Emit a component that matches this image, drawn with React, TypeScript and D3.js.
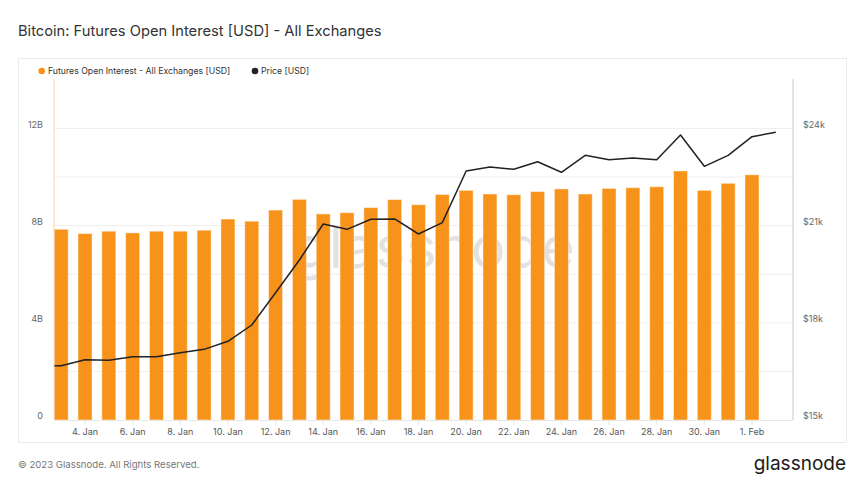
import React from "react";
import * as d3 from "d3";

const dates: string[] = [
  "2023-01-03","2023-01-04","2023-01-05","2023-01-06","2023-01-07","2023-01-08","2023-01-09",
  "2023-01-10","2023-01-11","2023-01-12","2023-01-13","2023-01-14","2023-01-15","2023-01-16",
  "2023-01-17","2023-01-18","2023-01-19","2023-01-20","2023-01-21","2023-01-22","2023-01-23",
  "2023-01-24","2023-01-25","2023-01-26","2023-01-27","2023-01-28","2023-01-29","2023-01-30",
  "2023-01-31","2023-02-01",
];
// Futures open interest, billions USD
const openInterest: number[] = [
  7.85, 7.67, 7.77, 7.70, 7.77, 7.77, 7.81, 8.27, 8.18, 8.64, 9.08, 8.48, 8.53, 8.74, 9.07,
  8.86, 9.28, 9.45, 9.30, 9.27, 9.40, 9.51, 9.30, 9.53, 9.56, 9.60, 10.25, 9.45, 9.74, 10.09,
];
const priceDates: string[] = [
  "2023-01-02", ...dates, "2023-02-02",
];
const price: number[] = [
  16680, 16676, 16861, 16842, 16954, 16954, 17077, 17181, 17429, 17932, 18929, 19938, 21049,
  20885, 21194, 21204, 20741, 21090, 22685, 22809, 22737, 22972, 22645, 23169, 23034, 23086,
  23034, 23796, 22830, 23169, 23744, 23880,
];
const xTickDates: string[] = [
  "2023-01-04","2023-01-06","2023-01-08","2023-01-10","2023-01-12","2023-01-14","2023-01-16",
  "2023-01-18","2023-01-20","2023-01-22","2023-01-24","2023-01-26","2023-01-28","2023-01-30",
  "2023-02-01",
];
const leftTicks: number[] = [0, 4, 8, 12];
const leftGrid: number[] = [2, 4, 6, 8, 10, 12];
const rightTicks: number[] = [15000, 18000, 21000, 24000];

const W = 865, H = 487;
const FONT = "Inter, 'Noto Sans', sans-serif";
const ORANGE = "#f7931a";

export default function App() {
  const parse = d3.utcParse("%Y-%m-%d");
  const plotL = 54, plotR = 793, plotT = 79, plotB = 420;
  const d0 = parse("2023-01-03")!.getTime();
  const day = 86400000;
  const px0 = 61.2, step = 23.82;
  const x = d3
    .scaleUtc()
    .domain([new Date(d0 + ((plotL - px0) / step) * day), new Date(d0 + ((plotR - px0) / step) * day)])
    .range([plotL, plotR]);
  const yL = d3.scaleLinear().domain([0, 4]).range([plotB, plotB - 97.2]);
  const yR = d3.scaleLinear().domain([15000, 18000]).range([plotB, plotB - 97.2]);
  const fmt = d3.utcFormat("%-d. %b");
  const barW = 14;

  const line = d3
    .line<number>()
    .x((_, i) => x(parse(priceDates[i])!))
    .y((v) => yR(v));

  return (
    <div style={{ position: "fixed", left: 0, top: 0, width: W, height: H, background: "#fff" }}>
      <svg width={W} height={H} style={{ display: "block", fontFamily: FONT }}>
        <defs>
          <clipPath id="plotClip">
            <rect x={plotL} y={plotT - 10} width={plotR - plotL} height={plotB - plotT + 10} />
          </clipPath>
        </defs>
        <rect width={W} height={H} fill="#fff" />
        <text x={18} y={36} fontSize={14.7} fill="#333" fontWeight={400}>
          Bitcoin: Futures Open Interest [USD] - All Exchanges
        </text>
        <rect x={18.5} y={58.5} width={828} height={384} fill="#fff" stroke="#ebebeb" />

        {/* legend */}
        <circle cx={41.7} cy={71} r={3.3} fill={ORANGE} />
        <text x={48} y={74.2} fontSize={8.7} fill="#333">
          Futures Open Interest - All Exchanges [USD]
        </text>
        <circle cx={255} cy={71} r={3.3} fill="#222" />
        <text x={261} y={74.2} fontSize={8.7} fill="#333">
          Price [USD]
        </text>

        {/* gridlines */}
        {leftGrid.map((v) => (
          <line key={v} x1={plotL} x2={plotR} y1={yL(v)} y2={yL(v)} stroke="#eeeeee" />
        ))}

        {/* watermark */}
        <text x={434} y={268} fontSize={58} fill="#dedede" textAnchor="middle" opacity={0.85}>
          glassnode
        </text>

        {/* bars */}
        {openInterest.map((v, i) => {
          const cx = x(parse(dates[i])!);
          return (
            <rect
              key={i}
              x={cx - barW / 2}
              y={yL(v)}
              width={barW}
              height={plotB - yL(v)}
              fill={ORANGE}
              stroke="#fff"
              strokeOpacity={0.45}
              strokeWidth={1}
            />
          );
        })}

        {/* price line */}
        <path
          d={line(price) || ""}
          fill="none"
          stroke="#222"
          strokeWidth={1.5}
          strokeLinejoin="round"
          clipPath="url(#plotClip)"
        />

        {/* axes */}
        <line x1={plotL} x2={plotL} y1={plotT} y2={plotB} stroke="#fcd6a4" />
        <line x1={plotR} x2={plotR} y1={plotT} y2={plotB} stroke="#c8c8c8" />
        <line x1={plotL} x2={plotR} y1={plotB + 0.5} y2={plotB + 0.5} stroke="#e6e6e6" />
        {leftTicks.map((v) => (
          <text key={v} x={43} y={yL(v) - 0.8} fontSize={9} fill="#666" textAnchor="end">
            {v === 0 ? "0" : `${v}B`}
          </text>
        ))}
        {rightTicks.map((v) => (
          <text key={v} x={803} y={yR(v) - 0.8} fontSize={9} fill="#666">
            {`$${v / 1000}k`}
          </text>
        ))}
        {xTickDates.map((s) => {
          const xx = x(parse(s)!);
          return (
            <g key={s}>
              <line x1={xx} x2={xx} y1={plotB} y2={plotB + 5} stroke="#e6e6e6" />
              <text x={xx} y={435} fontSize={9} fill="#555" textAnchor="middle">
                {fmt(parse(s)!)}
              </text>
            </g>
          );
        })}

        {/* footer */}
        <text x={18} y={468} fontSize={9.6} fill="#777">
          © 2023 Glassnode. All Rights Reserved.
        </text>
        <text x={846} y={470} fontSize={19} fill="#1a1a1a" textAnchor="end" fontWeight={400}>
          glassnode
        </text>
      </svg>
    </div>
  );
}
